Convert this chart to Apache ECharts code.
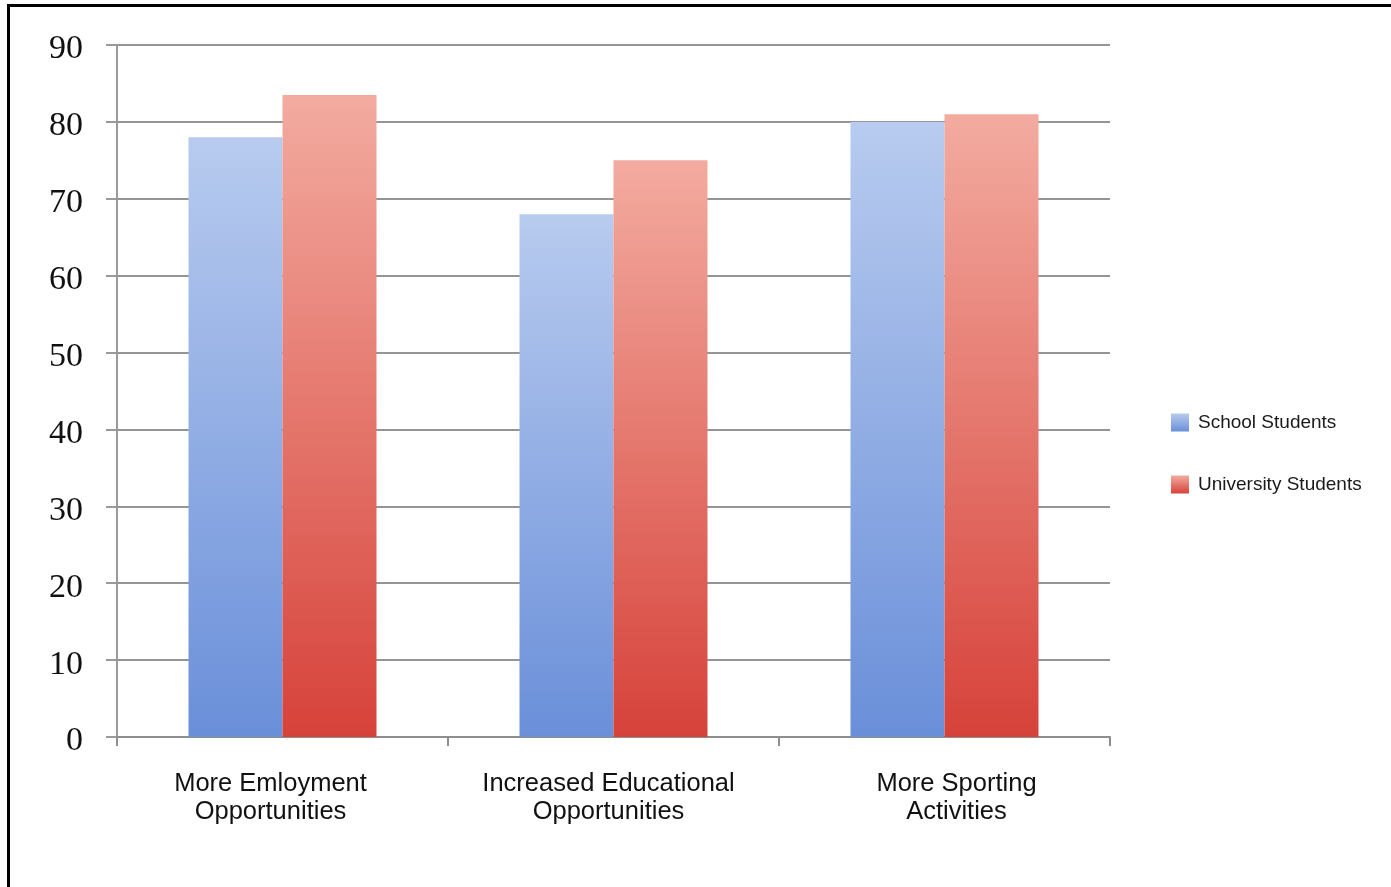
<!DOCTYPE html>
<html>
<head>
<meta charset="utf-8">
<title>Student Survey</title>
<script src="https://cdn.jsdelivr.net/npm/echarts@6/dist/echarts.min.js"></script>
<style>
  html, body { margin: 0; padding: 0; background: #ffffff; }
  #chart { width: 1391px; height: 887px; }
</style>
</head>
<body>
<div id="chart"></div>
<script>
// Survey categories and the two respondent groups
const categories = [
  'More Emloyment\nOpportunities',
  'Increased Educational\nOpportunities',
  'More Sporting\nActivities'
];
const schoolStudents = [78, 68, 80];
const universityStudents = [83.5, 75, 81];
const seriesNames = ['School Students', 'University Students'];

// horizontal nudge (px) for each category caption
const captionNudge = [-12, -5, 12];

// Vertical gradient fills, light at the top and deeper at the base
function fill(top, bottom) {
  return new echarts.graphic.LinearGradient(0, 0, 0, 1, [
    { offset: 0, color: top },
    { offset: 1, color: bottom }
  ]);
}

const categoryItems = categories.map((name, i) => {
  const d = captionNudge[i];
  return {
    value: name,
    textStyle: { padding: d < 0 ? [0, -2 * d, 0, 0] : [0, 0, 0, 2 * d] }
  };
});

const chart = echarts.init(document.getElementById('chart'), null, { renderer: 'canvas' });

chart.setOption({
  backgroundColor: '#ffffff',
  animation: false,
  grid: { left: 117, right: 281, top: 45, bottom: 150 },
  legend: {
    orient: 'vertical',
    left: 1166,
    top: 408,
    itemWidth: 18,
    itemHeight: 18,
    itemGap: 43,
    icon: 'rect',
    textStyle: { fontFamily: 'Liberation Sans, Arial, sans-serif', fontSize: 19, color: '#1a1a1a', padding: [0, 0, 0, 4] },
    data: seriesNames
  },
  xAxis: {
    type: 'category',
    data: categoryItems,
    axisLine: { lineStyle: { color: '#8e8e8e', width: 2 } },
    axisTick: { show: true, length: 9, lineStyle: { color: '#8e8e8e', width: 2 } },
    axisLabel: {
      margin: 33,
      fontFamily: 'Liberation Sans, Arial, sans-serif',
      fontSize: 25.5,
      lineHeight: 28,
      color: '#111111',
      interval: 0
    },
    splitLine: { show: false }
  },
  yAxis: {
    type: 'value',
    min: 0,
    max: 90,
    interval: 10,
    axisLine: { show: true, lineStyle: { color: '#9a9a9a', width: 2 } },
    axisTick: { show: true, length: 11, lineStyle: { color: '#9a9a9a', width: 2 } },
    axisLabel: {
      margin: 34,
      formatter: '{v|{value}}',
      rich: {
        v: {
          fontFamily: 'Liberation Serif, Times New Roman, serif',
          fontSize: 34,
          color: '#111111',
          padding: [9, 0, 0, 0]
        }
      }
    },
    splitLine: { show: true, lineStyle: { color: '#959595', width: 2 } }
  },
  series: [
    {
      name: seriesNames[0],
      type: 'bar',
      data: schoolStudents,
      barWidth: 94,
      barGap: '0%',
      itemStyle: { color: fill('#b8cbef', '#6a8fd9') }
    },
    {
      name: seriesNames[1],
      type: 'bar',
      data: universityStudents,
      barWidth: 94,
      barGap: '0%',
      itemStyle: { color: fill('#f3aba0', '#d6423a') }
    }
  ],
  graphic: [
    // frame lines along the top and left edges
    { type: 'rect', shape: { x: 7, y: 4, width: 1384, height: 3 }, style: { fill: '#000000' }, silent: true },
    { type: 'rect', shape: { x: 7, y: 4, width: 3, height: 883 }, style: { fill: '#000000' }, silent: true }
  ]
});
</script>
</body>
</html>
